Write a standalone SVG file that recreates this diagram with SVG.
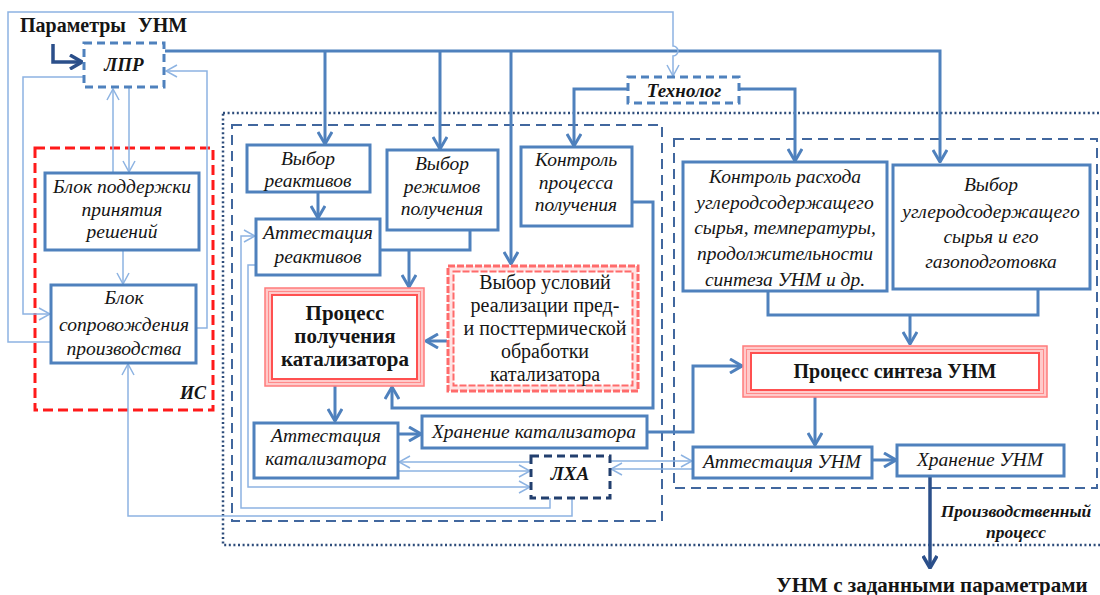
<svg xmlns="http://www.w3.org/2000/svg" width="1100" height="595" viewBox="0 0 1100 595">
  <defs>
    <style>
      .box{fill:#fff;stroke:#4f81bd;stroke-width:3}
      .dbox{fill:#fff;stroke:#4f81bd;stroke-width:3;stroke-dasharray:8 5}
      .nbox{fill:#fff;stroke:#223f6e;stroke-width:3;stroke-dasharray:8 5}
      .t{font-family:"Liberation Serif",serif;font-style:italic;font-size:19.5px;fill:#151515;text-anchor:middle}
      .b{font-weight:bold}
      .n{font-style:normal}
      .thick{fill:none;stroke:#4f81bd;stroke-width:3}
      .navy{fill:none;stroke:#2b4f8a;stroke-width:3.5}
      .thin{fill:none;stroke:#8db3e2;stroke-width:1.5}
      .dot{fill:none;stroke:#2e4d7b;stroke-width:2.5;stroke-dasharray:2 2.6}
      .dash{fill:none;stroke:#41679e;stroke-width:2;stroke-dasharray:10 6}
      .red{fill:none;stroke:#ff1a1a;stroke-width:3;stroke-dasharray:10 5}
    </style>
    <marker id="ah" viewBox="0 0 14 16" refX="13" refY="8" markerWidth="14" markerHeight="16" markerUnits="userSpaceOnUse" orient="auto">
      <path d="M1,1 L13,8 L1,15" fill="none" stroke="#4f81bd" stroke-width="3"/>
    </marker>
    <marker id="an" viewBox="0 0 14 16" refX="13" refY="8" markerWidth="14" markerHeight="16" markerUnits="userSpaceOnUse" orient="auto">
      <path d="M1,1 L13,8 L1,15" fill="none" stroke="#2b4f8a" stroke-width="3.5"/>
    </marker>
    <marker id="at" viewBox="0 0 13 14" refX="12" refY="7" markerWidth="13" markerHeight="14" markerUnits="userSpaceOnUse" orient="auto">
      <path d="M1,1 L12,7 L1,13" fill="none" stroke="#8db3e2" stroke-width="1.5"/>
    </marker>
  </defs>

  <rect width="1100" height="595" fill="#fff"/>

  <!-- enclosing frames -->
  <g id="frames">
    <rect class="dot" x="223" y="113" width="885" height="432"/>
    <rect class="dash" x="232" y="125" width="430" height="396"/>
    <rect class="dash" x="674" y="139" width="423" height="349"/>
    <rect class="red" x="35" y="148" width="178" height="262"/>
    <text class="t b" x="193" y="399" style="font-size:18px">ИС</text>
    <text class="t b" x="1016" y="517" style="font-size:17.5px">Производственный</text>
    <text class="t b" x="1016" y="538" style="font-size:17.5px">процесс</text>
  </g>

  <!-- connectors -->
  <g id="connectors">
    <!-- main control bus from ЛПР -->
    <path class="thick" d="M165,51 H940 V162" marker-end="url(#ah)"/>
    <path class="thick" d="M325,51 V144" marker-end="url(#ah)"/>
    <path class="thick" d="M440,51 V149" marker-end="url(#ah)"/>
    <path class="thick" d="M511,51 V264" marker-end="url(#ah)"/>
    <!-- Технолог -->
    <path class="thick" d="M628,89 H574 V146" marker-end="url(#ah)"/>
    <path class="thick" d="M740,89 H795 V161" marker-end="url(#ah)"/>
    <!-- catalyst line -->
    <path class="thick" d="M318,192 V218" marker-end="url(#ah)"/>
    <path class="thick" d="M380,250 H470 V230"/>
    <path class="thick" d="M409,250 V287" marker-end="url(#ah)"/>
    <path class="thick" d="M447,341 H426" marker-end="url(#ah)"/>
    <path class="thick" d="M632,202 H653 V408 H392 V387" marker-end="url(#ah)"/>
    <path class="thick" d="M335,386 V421" marker-end="url(#ah)"/>
    <path class="thick" d="M398,434 H421" marker-end="url(#ah)"/>
    <path class="thick" d="M647,432 H693 V366 H742" marker-end="url(#ah)"/>
    <!-- synthesis line -->
    <path class="thick" d="M768,291 V315 H1038 V289"/>
    <path class="thick" d="M910,315 V344" marker-end="url(#ah)"/>
    <path class="thick" d="M815,397 V445" marker-end="url(#ah)"/>
    <path class="thick" d="M872,460 H896" marker-end="url(#ah)"/>
    <!-- input and output -->
    <path class="navy" d="M53,44 V62 H82" marker-end="url(#an)"/>
    <path class="navy" d="M930,476 V568" marker-end="url(#an)"/>
    <!-- information links -->
    <path class="thin" d="M51,342 H8 V12 H673 V46 A5,5 0 0 1 673,56 V76" marker-end="url(#at)"/>
    <path class="thin" d="M84,77 H23 V314 H50" marker-end="url(#at)"/>
    <path class="thin" d="M196,328 H207 V71 H166" marker-end="url(#at)"/>
    <path class="thin" d="M113,173 V89" marker-end="url(#at)"/>
    <path class="thin" d="M129,88 V172" marker-end="url(#at)"/>
    <path class="thin" d="M123,250 V284" marker-end="url(#at)"/>
    <path class="thin" d="M256,265 H248 V487 H530" marker-end="url(#at)"/>
    <path class="thin" d="M550,498 V508 H241 V236 H255" marker-end="url(#at)"/>
    <path class="thin" d="M572,498 V516 H128 V364" marker-end="url(#at)"/>
    <path class="thin" d="M531,462 H399" marker-end="url(#at)"/>
    <path class="thin" d="M398,471 H530" marker-end="url(#at)"/>
    <path class="thin" d="M610,461 H692" marker-end="url(#at)"/>
    <path class="thin" d="M693,469 H611" marker-end="url(#at)"/>
  </g>

  <text class="t b n" x="20" y="32" style="text-anchor:start;font-size:20px;word-spacing:7px">Параметры УНМ</text>

  <g id="lpr">
    <rect class="dbox" x="84" y="43" width="80" height="44"/>
    <text class="t b" x="124" y="71" style="font-size:19px">ЛПР</text>
  </g>

  <g id="tehnolog">
    <rect class="dbox" x="628" y="77" width="111" height="26"/>
    <text class="t b" x="684" y="97" style="font-size:19px">Технолог</text>
  </g>

  <g id="blok-podderzhki">
    <rect class="box" x="45" y="173" width="154" height="77"/>
    <text class="t" x="122" y="193">Блок поддержки</text>
    <text class="t" x="122" y="216">принятия</text>
    <text class="t" x="122" y="238">решений</text>
  </g>

  <g id="blok-soprovozhdeniya">
    <rect class="box" x="51" y="285" width="145" height="78"/>
    <text class="t" x="124" y="304">Блок</text>
    <text class="t" x="124" y="331">сопровождения</text>
    <text class="t" x="124" y="355">производства</text>
  </g>

  <g id="vybor-reaktivov">
    <rect class="box" x="247" y="145" width="123" height="47"/>
    <text class="t" x="308" y="165">Выбор</text>
    <text class="t" x="308" y="187">реактивов</text>
  </g>

  <g id="vybor-rezhimov">
    <rect class="box" x="387" y="150" width="111" height="80"/>
    <text class="t" x="442" y="170">Выбор</text>
    <text class="t" x="442" y="193">режимов</text>
    <text class="t" x="442" y="215">получения</text>
  </g>

  <g id="kontrol-processa">
    <rect class="box" x="521" y="147" width="111" height="79"/>
    <text class="t" x="576" y="166">Контроль</text>
    <text class="t" x="576" y="189">процесса</text>
    <text class="t" x="576" y="211">получения</text>
  </g>

  <g id="attestaciya-reaktivov">
    <rect class="box" x="256" y="219" width="124" height="56"/>
    <text class="t" x="318" y="239">Аттестация</text>
    <text class="t" x="318" y="263">реактивов</text>
  </g>

  <g id="process-polucheniya">
    <rect x="265" y="288" width="159" height="98" fill="#ffcaca" stroke="#ff7b7b" stroke-width="1.5"/>
    <rect x="268.5" y="291.5" width="152" height="91" fill="none" stroke="#ff8a8a" stroke-width="1"/>
    <rect x="272" y="295" width="145" height="84" fill="#fff" stroke="#ff5050" stroke-width="2"/>
    <text class="t b n" x="345" y="320" style="font-size:21px">Процесс</text>
    <text class="t b n" x="345" y="343" style="font-size:21px">получения</text>
    <text class="t b n" x="345" y="366" style="font-size:21px">катализатора</text>
  </g>

  <g id="vybor-usloviy">
    <rect x="448" y="266" width="190" height="125" fill="#ffe4e4" stroke="#ff6b6b" stroke-width="3" stroke-dasharray="7 2"/>
    <rect x="453.5" y="271.5" width="179" height="114" fill="#fff" stroke="#ff6b6b" stroke-width="2" stroke-dasharray="7 2"/>
    <text class="t n" x="545" y="289" style="font-size:20px">Выбор условий</text>
    <text class="t n" x="545" y="312" style="font-size:20px">реализации пред-</text>
    <text class="t n" x="545" y="335" style="font-size:20px">и посттермической</text>
    <text class="t n" x="545" y="358" style="font-size:20px">обработки</text>
    <text class="t n" x="545" y="381" style="font-size:20px">катализатора</text>
  </g>

  <g id="attestaciya-katalizatora">
    <rect class="box" x="254" y="423" width="144" height="55"/>
    <text class="t" x="326" y="442">Аттестация</text>
    <text class="t" x="326" y="465">катализатора</text>
  </g>

  <g id="hranenie-katalizatora">
    <rect class="box" x="422" y="416" width="225" height="32"/>
    <text class="t" x="534" y="438">Хранение катализатора</text>
  </g>

  <g id="lha">
    <rect class="nbox" x="531" y="456" width="79" height="42"/>
    <text class="t b" x="570" y="480" style="font-size:19px">ЛХА</text>
  </g>

  <g id="kontrol-rashoda">
    <rect class="box" x="683" y="162" width="204" height="129"/>
    <text class="t" x="785" y="183">Контроль расхода</text>
    <text class="t" x="785" y="209">углеродсодержащего</text>
    <text class="t" x="785" y="234">сырья, температуры,</text>
    <text class="t" x="785" y="260">продолжительности</text>
    <text class="t" x="785" y="286">синтеза УНМ и др.</text>
  </g>

  <g id="vybor-syrya">
    <rect class="box" x="893" y="165" width="197" height="124"/>
    <text class="t" x="991" y="191">Выбор</text>
    <text class="t" x="991" y="218">углеродсодержащего</text>
    <text class="t" x="991" y="243">сырья и его</text>
    <text class="t" x="991" y="268">газоподготовка</text>
  </g>

  <g id="process-sinteza">
    <rect x="743" y="346" width="304" height="51" fill="#ffcaca" stroke="#ff7b7b" stroke-width="1.5"/>
    <rect x="746.5" y="349.5" width="297" height="44" fill="none" stroke="#ff8a8a" stroke-width="1"/>
    <rect x="751" y="353" width="288" height="37" fill="#fff" stroke="#ff5050" stroke-width="2"/>
    <text class="t b n" x="895" y="378" style="font-size:20px">Процесс синтеза УНМ</text>
  </g>

  <g id="attestaciya-unm">
    <rect class="box" x="693" y="447" width="179" height="31"/>
    <text class="t" x="782" y="468">Аттестация УНМ</text>
  </g>

  <g id="hranenie-unm">
    <rect class="box" x="897" y="445" width="167" height="31"/>
    <text class="t" x="980" y="466">Хранение УНМ</text>
  </g>

  <text class="t b n" x="932" y="592" style="font-size:21px">УНМ с заданными параметрами</text>
</svg>
